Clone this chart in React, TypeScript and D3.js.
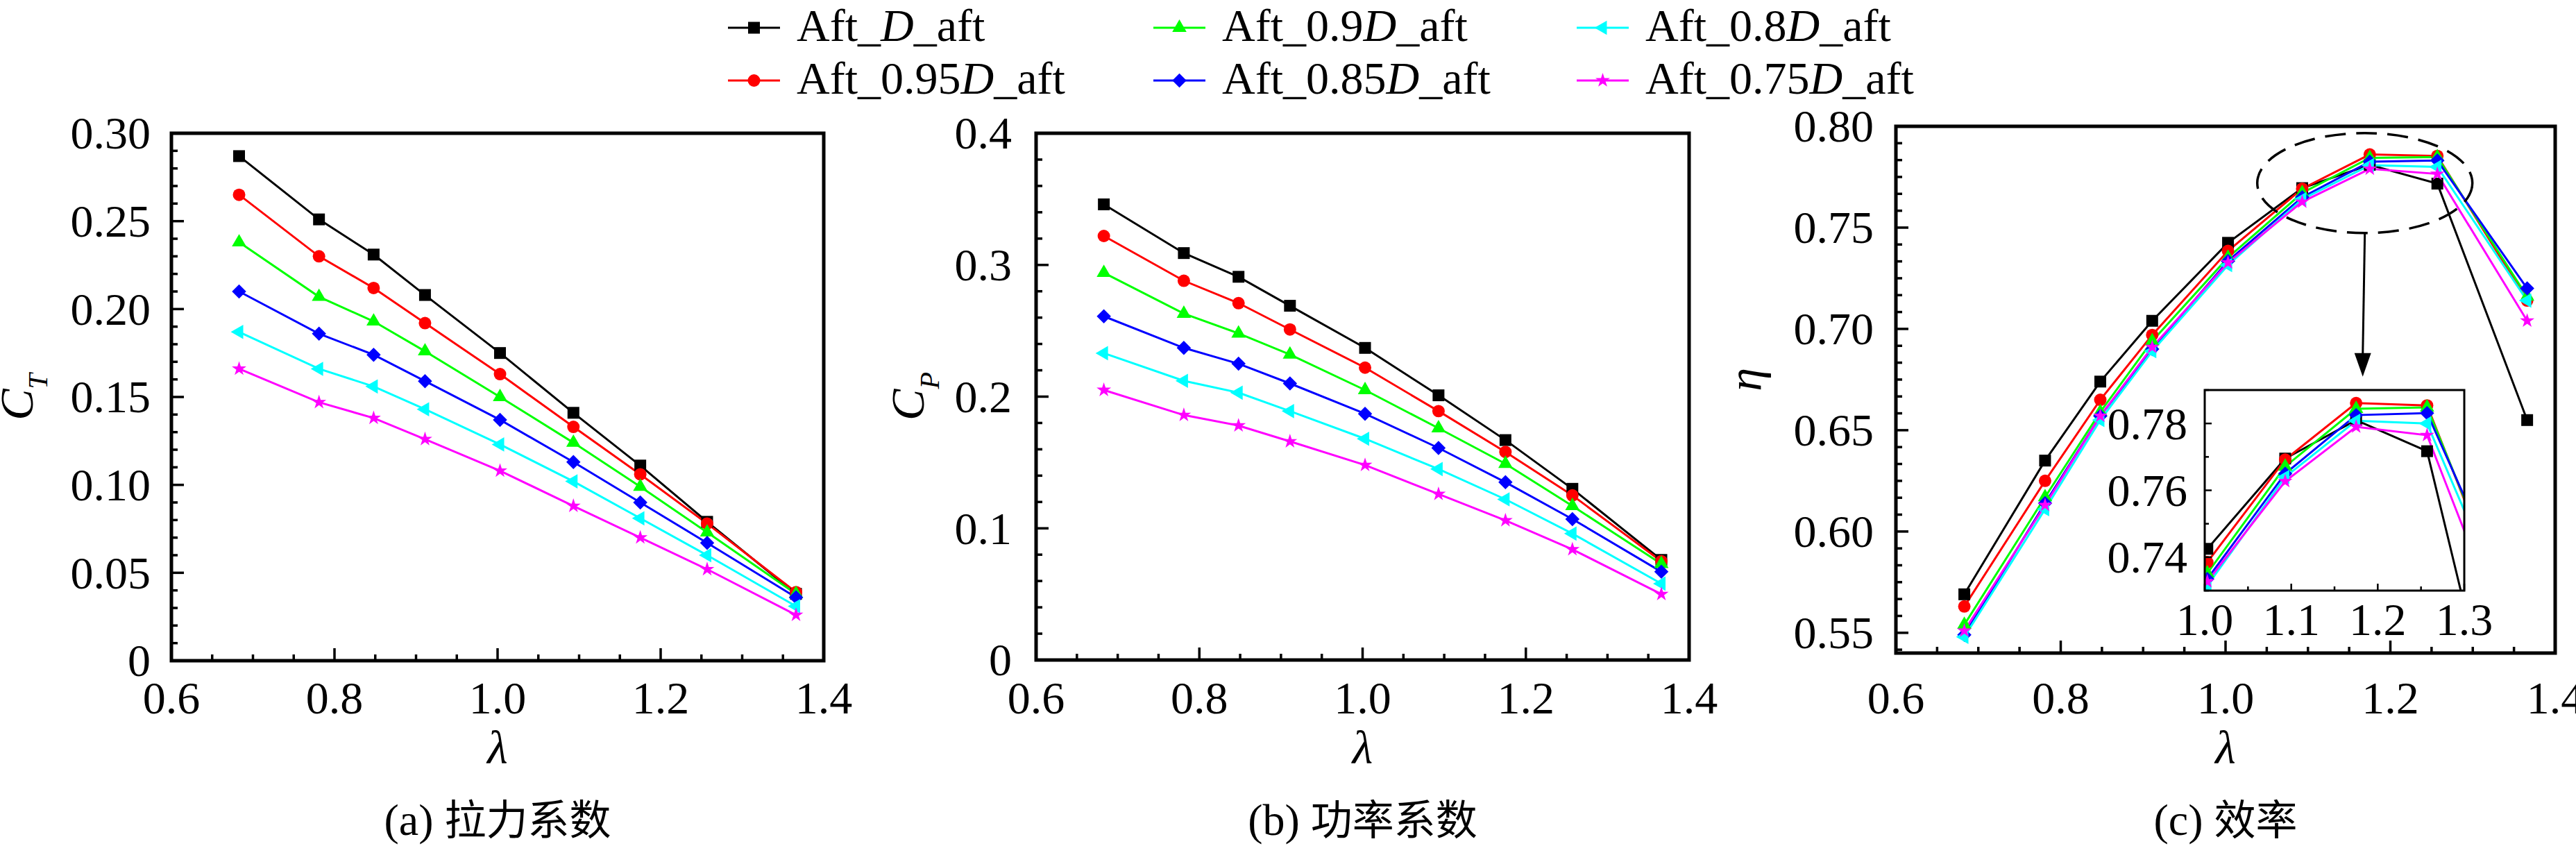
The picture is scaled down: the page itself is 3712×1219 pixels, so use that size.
import React, { useEffect } from 'react';
import * as d3 from 'd3';

// tip speed ratio (x of every series)
const lambda = [0.683, 0.781, 0.848, 0.911, 1.003, 1.093, 1.175, 1.257, 1.366];

// legend factors, in drawing order
const factors = ['', '0.95', '0.9', '0.85', '0.8', '0.75'];

// thrust coefficient C_T
const ctD = [0.287, 0.251, 0.231, 0.208, 0.175, 0.141, 0.111, 0.079, 0.038];
const ct095 = [0.265, 0.23, 0.212, 0.192, 0.163, 0.133, 0.106, 0.078, 0.039];
const ct090 = [0.238, 0.207, 0.193, 0.176, 0.15, 0.124, 0.099, 0.073, 0.038];
const ct085 = [0.21, 0.186, 0.174, 0.159, 0.137, 0.113, 0.09, 0.067, 0.036];
const ct080 = [0.187, 0.166, 0.156, 0.143, 0.123, 0.102, 0.081, 0.06, 0.031];
const ct075 = [0.166, 0.147, 0.138, 0.126, 0.108, 0.088, 0.07, 0.052, 0.026];

// power coefficient C_P
const cpD = [0.346, 0.309, 0.291, 0.269, 0.237, 0.201, 0.167, 0.13, 0.076];
const cp095 = [0.322, 0.288, 0.271, 0.251, 0.222, 0.189, 0.158, 0.125, 0.075];
const cp090 = [0.294, 0.263, 0.248, 0.232, 0.205, 0.176, 0.149, 0.117, 0.073];
const cp085 = [0.261, 0.237, 0.225, 0.21, 0.187, 0.161, 0.135, 0.107, 0.067];
const cp080 = [0.233, 0.212, 0.203, 0.189, 0.168, 0.145, 0.122, 0.096, 0.058];
const cp075 = [0.205, 0.186, 0.178, 0.166, 0.148, 0.126, 0.106, 0.084, 0.05];

// efficiency eta
const etaD = [0.569, 0.635, 0.674, 0.704, 0.7425, 0.7695, 0.781, 0.7717, 0.655];
const eta095 = [0.563, 0.625, 0.665, 0.697, 0.7385, 0.7692, 0.7861, 0.7854, 0.714];
const eta090 = [0.554, 0.617, 0.659, 0.694, 0.7352, 0.7671, 0.7844, 0.7848, 0.716];
const eta085 = [0.549, 0.614, 0.657, 0.69, 0.7335, 0.765, 0.7825, 0.7831, 0.72];
const eta080 = [0.548, 0.611, 0.655, 0.689, 0.7315, 0.764, 0.7808, 0.78, 0.714];
const eta075 = [0.551, 0.613, 0.657, 0.691, 0.7327, 0.7627, 0.779, 0.7765, 0.704];

// tick values
const xTicks = [0.6, 0.8, 1.0, 1.2, 1.4];
const ctTicks = [0, 0.05, 0.1, 0.15, 0.2, 0.25, 0.3];
const cpTicks = [0, 0.1, 0.2, 0.3, 0.4];
const etaTicks = [0.55, 0.6, 0.65, 0.7, 0.75, 0.8];
const insetXTicks = [1.0, 1.1, 1.2, 1.3];
const insetYTicks = [0.74, 0.76, 0.78];

const colors = ['#000000', '#ff0000', '#00ff00', '#0000ff', '#00ffff', '#ff00ff'];
const markers = ['square', 'circle', 'triangle', 'diamond', 'left', 'star'];

const SERIF = "'Liberation Serif', 'DejaVu Serif', serif";
const CJK = "'Noto Sans CJK SC', sans-serif";

function markerPath(kind: string) {
  if (kind === 'square') return d3.symbol(d3.symbolSquare, 289)();
  if (kind === 'circle') return d3.symbol(d3.symbolCircle, 254)();
  if (kind === 'diamond') return d3.symbol(d3.symbolSquare, 210)();
  if (kind === 'star') return d3.symbol(d3.symbolStar, 135)();
  return d3.symbol(d3.symbolTriangle, 185)();
}
function markerRot(kind: string) {
  if (kind === 'diamond') return 45;
  if (kind === 'left') return -90;
  return 0;
}

function Marker({ kind, color, cx, cy }: any) {
  return (
    <path
      d={markerPath(kind) as string}
      fill={color}
      transform={`translate(${cx},${cy}) rotate(${markerRot(kind)})`}
    />
  );
}

// minor tick values between (and around) the majors
function minorTicks(majors: number[], step: number, domain: number[]) {
  const out: number[] = [];
  for (let v = majors[0]; v >= domain[0] - 1e-9; v -= step) out.push(v);
  for (let v = majors[0] + step; v <= domain[1] + 1e-9; v += step) out.push(v);
  return out.filter((v) => !majors.some((m) => Math.abs(m - v) < step / 3));
}

function Axes(props: any) {
  const {
    left, right, top, bottom, xDomain, yDomain, xT, yT, xMinorStep, yMinorStep,
    xFmt, yFmt, data, frameW, majorLen, minorLen, tickW, labelGap, xLabelBase, clipId,
  } = props;
  const x = d3.scaleLinear().domain(xDomain).range([left, right]);
  const y = d3.scaleLinear().domain(yDomain).range([bottom, top]);
  const line = d3
    .line<number>()
    .x((_d, i) => x(lambda[i]))
    .y((d) => y(d));
  const xm = minorTicks(xT, xMinorStep, xDomain);
  const ym = minorTicks(yT, yMinorStep, yDomain);

  return (
    <g>
      <rect x={left} y={top} width={right - left} height={bottom - top} fill="#fff" />
      {clipId && (
        <clipPath id={clipId}>
          <rect x={left} y={top} width={right - left} height={bottom - top} />
        </clipPath>
      )}
      <g clipPath={clipId ? `url(#${clipId})` : undefined}>
        {data.map((s: number[], k: number) => (
          <path key={'l' + k} d={line(s) as string} fill="none" stroke={colors[k]} strokeWidth={3} />
        ))}
        {data.map((s: number[], k: number) =>
          s.map((v, i) => (
            <Marker key={'m' + k + '_' + i} kind={markers[k]} color={colors[k]} cx={x(lambda[i])} cy={y(v)} />
          ))
        )}
      </g>
      {/* ticks, inward */}
      <g stroke="#000" strokeWidth={tickW}>
        {xT.map((v: number) => (
          <line key={'xt' + v} x1={x(v)} x2={x(v)} y1={bottom} y2={bottom - majorLen} />
        ))}
        {xm.map((v: number) => (
          <line key={'xm' + v} x1={x(v)} x2={x(v)} y1={bottom} y2={bottom - minorLen} />
        ))}
        {yT.map((v: number) => (
          <line key={'yt' + v} x1={left} x2={left + majorLen} y1={y(v)} y2={y(v)} />
        ))}
        {ym.map((v: number) => (
          <line key={'ym' + v} x1={left} x2={left + minorLen} y1={y(v)} y2={y(v)} />
        ))}
      </g>
      <rect
        x={left}
        y={top}
        width={right - left}
        height={bottom - top}
        fill="none"
        stroke="#000"
        strokeWidth={frameW}
      />
      <g style={{ fontFamily: SERIF, fontSize: 66 }} fill="#000">
        {xT.map((v: number) => (
          <text key={'xl' + v} x={x(v)} y={xLabelBase} textAnchor="middle">
            {xFmt(v)}
          </text>
        ))}
        {yT.map((v: number) => (
          <text key={'yl' + v} x={left - labelGap} y={y(v)} dy="0.34em" textAnchor="end">
            {yFmt(v)}
          </text>
        ))}
      </g>
    </g>
  );
}

const f1 = d3.format('.1f');
const f2 = d3.format('.2f');

export default function App() {
  useEffect(() => {
    document.body.style.margin = '0';
  }, []);

  const W = 3712;
  const H = 1219;

  // panel (c) scales for the annotation
  const cx = d3.scaleLinear().domain([0.6, 1.4]).range([2732, 3682]);
  const cy = d3.scaleLinear().domain([0.54, 0.8]).range([941, 182]);
  const ellX = cx(1.169);
  const ellY = cy(0.772);
  const tipY = cy(0.6764);

  const panels = [
    { left: 247, right: 1187, top: 192, bottom: 952, yDomain: [0, 0.3], yT: ctTicks, yMinor: 0.01,
      yFmt: (v: number) => (v === 0 ? '0' : f2(v)), data: [ctD, ct095, ct090, ct085, ct080, ct075], gap: 30,
      title: ['(a) ', '拉力系数'] },
    { left: 1493, right: 2434, top: 192, bottom: 951, yDomain: [0, 0.4], yT: cpTicks, yMinor: 0.02,
      yFmt: (v: number) => (v === 0 ? '0' : f1(v)), data: [cpD, cp095, cp090, cp085, cp080, cp075], gap: 35,
      title: ['(b) ', '功率系数'] },
    { left: 2732, right: 3682, top: 182, bottom: 941, yDomain: [0.54, 0.8], yT: etaTicks, yMinor: 0.05 / 6,
      yFmt: f2, data: [etaD, eta095, eta090, eta085, eta080, eta075], gap: 32,
      title: ['(c) ', '效率'] },
  ];

  const legendCols = [1049, 1662, 2272];
  const legendRows = [40, 116];

  return (
    <svg width={W} height={H} style={{ display: 'block', background: '#fff' }}>
      <rect width={W} height={H} fill="#fff" />

      {/* legend */}
      <g style={{ fontFamily: SERIF, fontSize: 66 }}>
        {factors.map((f, i) => {
          const lx = legendCols[Math.floor(i / 2)];
          const ly = legendRows[i % 2];
          return (
            <g key={'lg' + i}>
              <line x1={lx} x2={lx + 75} y1={ly} y2={ly} stroke={colors[i]} strokeWidth={3} />
              <Marker kind={markers[i]} color={colors[i]} cx={lx + 37.5} cy={ly} />
              <text x={lx + 99} y={ly + 19}>
                {'Aft_' + f}
                <tspan style={{ fontStyle: 'italic' }}>D</tspan>
                {'_aft'}
              </text>
            </g>
          );
        })}
      </g>

      {panels.map((p, k) => (
        <g key={'p' + k}>
          <Axes
            left={p.left} right={p.right} top={p.top} bottom={p.bottom}
            xDomain={[0.6, 1.4]} yDomain={p.yDomain} xT={xTicks} yT={p.yT}
            xMinorStep={0.05} yMinorStep={p.yMinor} xFmt={f1} yFmt={p.yFmt}
            data={p.data} frameW={5} majorLen={18} minorLen={9} tickW={3.5}
            labelGap={p.gap} xLabelBase={1028}
          />
          <text
            x={(p.left + p.right) / 2} y={1100} textAnchor="middle"
            style={{ fontFamily: SERIF, fontStyle: 'italic', fontSize: 68 }}
          >
            λ
          </text>
          <text x={(p.left + p.right) / 2} y={1203} textAnchor="middle" style={{ fontFamily: SERIF, fontSize: 64 }}>
            {p.title[0]}
            <tspan style={{ fontFamily: CJK, fontSize: 60 }}>{p.title[1]}</tspan>
          </text>
        </g>
      ))}

      {/* y-axis titles */}
      <g style={{ fontFamily: SERIF, fontStyle: 'italic', fontSize: 68 }}>
        <text transform="translate(47,572) rotate(-90)" textAnchor="middle">
          C<tspan style={{ fontSize: 40 }} dy={21}>T</tspan>
        </text>
        <text transform="translate(1331,571) rotate(-90)" textAnchor="middle">
          C<tspan style={{ fontSize: 40 }} dy={22}>P</tspan>
        </text>
        <text transform="translate(2538,547) rotate(-90)" textAnchor="middle">
          η
        </text>
      </g>

      {/* zoom annotation in (c) */}
      <ellipse cx={ellX} cy={ellY} rx={155} ry={72} fill="none" stroke="#000" strokeWidth={3.5} strokeDasharray="30 15" />
      <line x1={ellX} y1={ellY + 72} x2={ellX - 3} y2={tipY - 30} stroke="#000" strokeWidth={3} />
      <path d={`M${ellX - 15},${tipY - 34}L${ellX + 9},${tipY - 34}L${ellX - 3},${tipY}Z`} fill="#000" />

      {/* inset */}
      <Axes
        left={3177} right={3551} top={562} bottom={851}
        xDomain={[1.0, 1.3]} yDomain={[0.73, 0.79]} xT={insetXTicks} yT={insetYTicks}
        xMinorStep={0.05} yMinorStep={0.01} xFmt={f1} yFmt={f2}
        data={[etaD, eta095, eta090, eta085, eta080, eta075]}
        frameW={3} majorLen={10} minorLen={6} tickW={2.5}
        labelGap={25} xLabelBase={915} clipId="insetClip"
      />
    </svg>
  );
}
